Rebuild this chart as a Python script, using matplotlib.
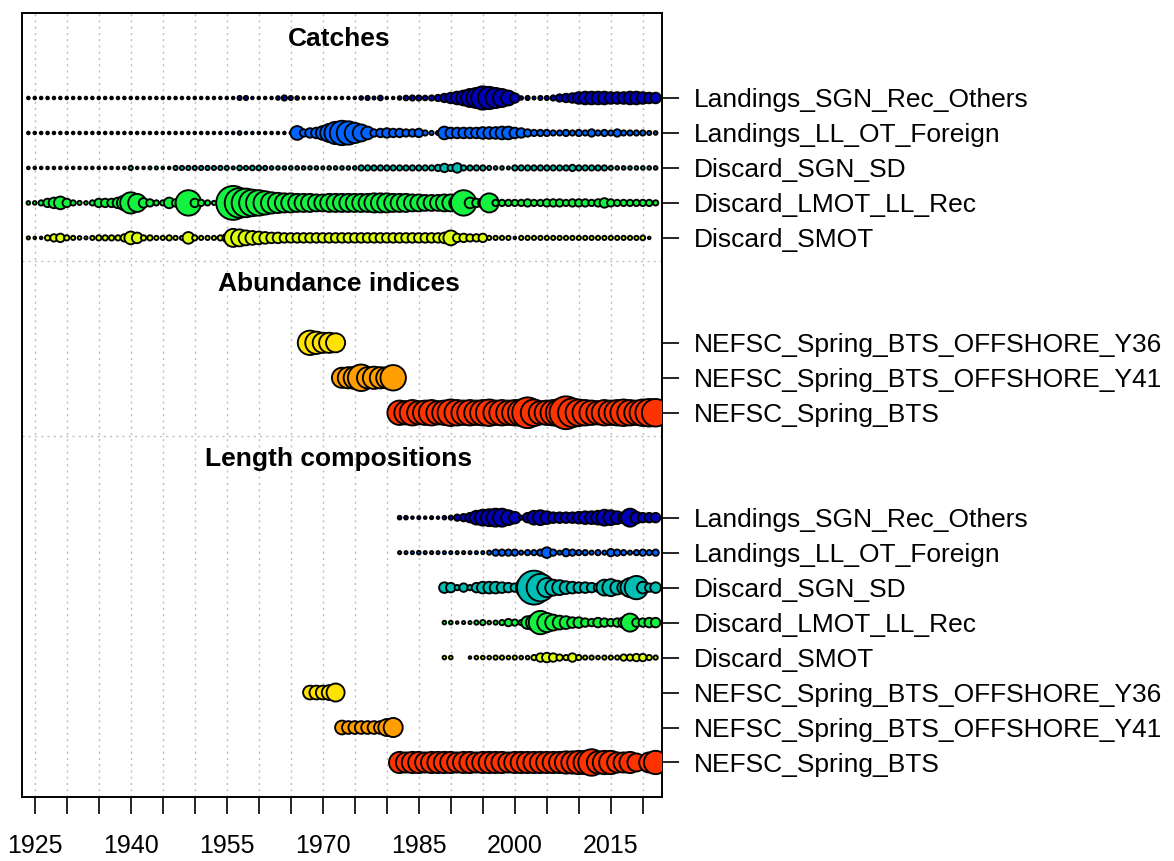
import numpy as np
import matplotlib.pyplot as plt

plt.rcParams["font.family"] = ["Liberation Sans", "DejaVu Sans"]

# ---------------------------------------------------------------------------
# data (relative bubble sizes read off the chart, NaN = no observation)
# ---------------------------------------------------------------------------
fleets = ["Landings_SGN_Rec_Others", "Landings_LL_OT_Foreign", "Discard_SGN_SD",
          "Discard_LMOT_LL_Rec", "Discard_SMOT",
          "NEFSC_Spring_BTS_OFFSHORE_Y36", "NEFSC_Spring_BTS_OFFSHORE_Y41",
          "NEFSC_Spring_BTS"]
fleet_colors = ["#0000B4", "#0063FF", "#00BEB4", "#13F23F", "#DDFE0B",
                "#FEE201", "#FF9E00", "#FF3300"]

catch_years = np.arange(1924, 2023)
catch_sgn_rec = [
    2.5, 2.5, 2.5, 2.5, 2.5, 2.5, 2.5, 2.5, 2.5, 2.5,
    2.5, 2.5, 2.5, 2.5, 2.5, 2.5, 2.5, 2.5, 2.5, 2.5,
    2.5, 2.5, 2.5, 2.5, 2.5, 2.5, 2.5, 2.5, 2.5, 2.5,
    2.5, 2.5, 2.5, 4, 4, 2.5, 2.5, 2.5, 2.5, 3.5,
    5, 4, 3.5, 2.5, 2.5, 2.5, 2.5, 2.5, 2.5, 2.5,
    2.5, 2.5, 3.5, 4, 3, 4.5, 2.5, 2.5, 3.5, 4.5,
    5, 5, 4.5, 5, 6, 8, 10, 12, 14, 17,
    19, 22, 21, 19, 17, 14, 9, 3.5, 4, 3,
    4, 4, 5, 7, 8, 9, 11, 12, 12, 12,
    12, 11, 11, 11, 12, 12, 11, 10, 10]
catch_ll_ot = [
    2.5, 2.5, 2.5, 2.5, 2.5, 2.5, 2.5, 2.5, 2.5, 2.5,
    2.5, 2.5, 2.5, 2.5, 2.5, 2.5, 2.5, 2.5, 2.5, 2.5,
    2.5, 2.5, 2.5, 2.5, 2.5, 2.5, 2.5, 2.5, 2.5, 2.5,
    2.5, 2.5, 2.5, 3.5, 2.5, 2.5, 2.5, 2.5, 2.5, 2.5,
    2.5, 2.5, 13, 7, 9, 10, 13, 17, 21, 23,
    22, 19, 16, 12, 7, 8, 9, 8, 8, 7,
    7, 8, 5, 4, 4, 12, 10, 10, 10, 10,
    10, 11, 11, 11, 12, 12, 10, 9, 7, 6,
    6, 6, 5, 5, 6, 5, 6, 5, 7, 5,
    6, 5, 7, 5, 5, 5, 5, 4, 3.5]
catch_sgn_sd = [
    2.5, 2.5, 2.5, 2.5, 2.5, 2.5, 2.5, 2.5, 2.5, 2.5,
    2.5, 2.5, 2.5, 2.5, 2.5, 2.5, 4, 2.5, 2.5, 3,
    3, 2.5, 2.5, 4, 4, 4, 4, 4, 4, 4,
    4, 4, 3, 4.5, 4, 4.5, 4.5, 4, 3.5, 3.5,
    3.5, 3.5, 3.5, 3.5, 3.5, 3.5, 3, 3.5, 3.5, 3.5,
    3.5, 3.5, 5, 5, 5, 5, 5, 5, 5, 5,
    5, 5, 5, 5, 6, 8, 6, 9, 5, 5,
    5, 5, 4, 3.5, 3.5, 3, 5, 5, 5, 5,
    5, 5, 5, 5, 5, 6, 5, 5, 5, 5,
    5, 4, 3.5, 3.5, 3.5, 3.5, 3.5, 3.5, 3.5]
catch_lmot = [
    3.5, 3.5, 5, 8, 10, 12, 8, 5, 4, 3.5,
    5, 8, 8, 8, 10, 14, 20, 17, 9, 7,
    5, 5, 10, 7, 12, 24, 8, 6, 5, 4,
    5, 15, 32, 28, 27, 25, 24, 22, 20, 19,
    18, 18, 17, 17, 17, 16, 16, 17, 17, 17,
    17, 17, 17, 17, 18, 18, 18, 17, 17, 17,
    16, 16, 15, 15, 15, 16, 16, 15, 24, 10,
    8, 9, 18, 6, 6, 6, 6, 6, 7, 6,
    6, 7, 7, 7, 6, 7, 7, 7, 6, 7,
    9, 7, 6, 6, 6, 6, 6, 6, 5]
catch_smot = [
    3, 2.5, 2.5, 5, 7, 8, 5, 4, 3.5, 3,
    4, 5, 5, 5, 5, 7, 12, 10, 5, 5,
    4, 4, 5, 4, 4, 11, 5, 4, 4, 4,
    5, 8, 17, 16, 14, 13, 12, 11, 10, 10,
    9, 9, 9, 9, 9, 9, 9, 9, 9, 9,
    9, 9, 9, 9, 9, 9, 9, 9, 9, 9,
    9, 9, 9, 9, 9, 10, 14, 8, 8, 7,
    7, 8, 4, 4, 4, 4, 2.5, 4, 4, 4,
    4, 4, 4, 4, 4, 4, 4, 4, 4, 4,
    4, 4, 4, 4, 4, 4, 4.5, 2.5, np.nan]

idx_y36_years = np.arange(1968, 1973)
idx_y36 = [23, 21, 19, 19, 18]
idx_y41_years = np.arange(1973, 1982)
idx_y41 = [19, 20, 21, 25, 20, 21, 20, 20, 24]
idx_bts_years = np.arange(1982, 2023)
idx_bts = [23, 22, 24, 22, 23, 24, 22, 23, 25, 24,
           23, 24, 23, 24, 25, 23, 24, 23, 24, 25,
           29, 25, 22, 23, 24, 26, 31, 27, 25, 24,
           23, 22, 24, 23, 24, 25, 24, 23, 25, 26,
           26]

lc_sgn_rec_years = np.arange(1982, 2023)
lc_sgn_rec = [3.5, 3.5, 2.5, 3, 2.5, 3, 2.5, 3.5, 4, 6,
              7, 9, 13, 15, 16, 17, 17, 14, 11, 4,
              9, 13, 14, 12, 10, 10, 10, 10, 11, 12,
              12, 13, 15, 14, 12, 10, 17, 11, 9, 9,
              9]
lc_ll_ot_years = np.arange(1982, 2023)
lc_ll_ot = [3, 3, 3, 3.5, 3, 3, 3, 3, 3, 3,
            3, 3, 3, 3, 4, 6, 6, 6, 6, 4,
            5, 5, 6, 10, 6, 4, 7, 6, 5, 5,
            4, 5, 4, 7, 6, 5, 4, 5, 6, 5,
            6]
lc_sgn_sd_years = np.arange(1989, 2023)
lc_sgn_sd = [10, 9, 5, 8, 5, 9, 11, 11, 11, 10,
             9, 8, 9, 22, 32, 26, 18, 15, 14, 12,
             11, 10, 10, 9, 8, 15, 16, 13, 12, 18,
             22, 11, 8, 10]
lc_lmot_years = np.arange(1989, 2023)
lc_lmot = [3.5, 3.5, 2.5, 3, 3, 4, 5, 3.5, 4, 5,
           7, 6, 5, 12, 15, 22, 18, 15, 13, 12,
           10, 10, 8, 7, 9, 8, 7, 8, 10, 17,
           8, 8, 9, 9]
lc_smot_years = np.arange(1989, 2023)
lc_smot = [3.5, 3.5, np.nan, np.nan, 2.5, 3.5, 3.5, 3.5, 4, 4,
           3.5, 4, 3.5, 3.5, 5, 8, 9, 8, 6, 5,
           8, 5, 4, 4, 3.5, 4, 4, 4, 6, 6,
           7, 7, 5, 4]
lc_y36_years = np.arange(1968, 1973)
lc_y36 = [13, 13, 13, 14, 17]
lc_y41_years = np.arange(1973, 1982)
lc_y41 = [13, 12, 12, 12, 12, 12, 12, 16, 18]
lc_bts_years = np.arange(1982, 2023)
lc_bts = [20, 19, 20, 20, 19, 20, 20, 20, 20, 19,
          20, 20, 19, 20, 20, 20, 20, 19, 20, 20,
          20, 20, 20, 20, 20, 20, 21, 21, 22, 22,
          25, 21, 22, 22, 19, 19, 20, 17, np.nan, 19,
          22]

# blocks drawn top to bottom: (title, [(fleet index, years, sizes), ...])
blocks = [
    ("Catches", [(0, catch_years, catch_sgn_rec), (1, catch_years, catch_ll_ot),
                 (2, catch_years, catch_sgn_sd), (3, catch_years, catch_lmot),
                 (4, catch_years, catch_smot)]),
    ("Abundance indices", [(5, idx_y36_years, idx_y36), (6, idx_y41_years, idx_y41),
                           (7, idx_bts_years, idx_bts)]),
    ("Length compositions", [(0, lc_sgn_rec_years, lc_sgn_rec), (1, lc_ll_ot_years, lc_ll_ot),
                             (2, lc_sgn_sd_years, lc_sgn_sd), (3, lc_lmot_years, lc_lmot),
                             (4, lc_smot_years, lc_smot), (5, lc_y36_years, lc_y36),
                             (6, lc_y41_years, lc_y41), (7, lc_bts_years, lc_bts)]),
]

# ---------------------------------------------------------------------------
# plot
# ---------------------------------------------------------------------------
fig = plt.figure(figsize=(11.74, 8.61), dpi=100)
ax = fig.add_axes([0.0187, 0.0738, 0.5452, 0.9111])

px_to_pt = 72 / fig.dpi
grid_kw = dict(color="#BEBEBE", linestyle=(0, (1.5, 3)), linewidth=1.0, zorder=0)

for yr in range(1925, 2021, 5):
    ax.axvline(yr, **grid_kw)

ytick_pos, ytick_lab = [], []
base = 0
layout = []
for title, rows in reversed(blocks):
    n = len(rows)
    for i, (fi, yrs, vals) in enumerate(rows):
        layout.append((base + n - 1 - i, fi, yrs, vals))
    top = base + n - 1
    ax.text(1972.5, top + 1.68, title, ha="center", va="center",
            fontsize=19, fontweight="bold")
    if title != "Catches":
        ax.axhline(top + 2.33, **grid_kw)
    base = top + 3

for ypos, fi, yrs, vals in layout:
    vals = np.asarray(vals, dtype=float)
    ok = ~np.isnan(vals)
    ax.scatter(np.asarray(yrs)[ok], np.full(ok.sum(), ypos),
               s=(vals[ok] * 1.06 * px_to_pt) ** 2, c=fleet_colors[fi],
               edgecolors="black", linewidths=1.35, zorder=3)
    ytick_pos.append(ypos)
    ytick_lab.append(fleets[fi])

ax.set_xlim(1923, 2023)
ax.set_ylim(-1.0, 21.43)

xt = list(range(1925, 2021, 5))
ax.set_xticks(xt)
ax.set_xticklabels([str(y) if (y - 1925) % 15 == 0 else "" for y in xt])
ax.tick_params(axis="x", length=12, width=1.2, labelsize=18, pad=14)

ax.yaxis.tick_right()
ax.set_yticks(ytick_pos)
ax.set_yticklabels(ytick_lab)
ax.tick_params(axis="y", length=12, width=1.2, labelsize=19, pad=11)

for sp in ax.spines.values():
    sp.set_linewidth(1.4)

fig.savefig("out.png", dpi=100)
